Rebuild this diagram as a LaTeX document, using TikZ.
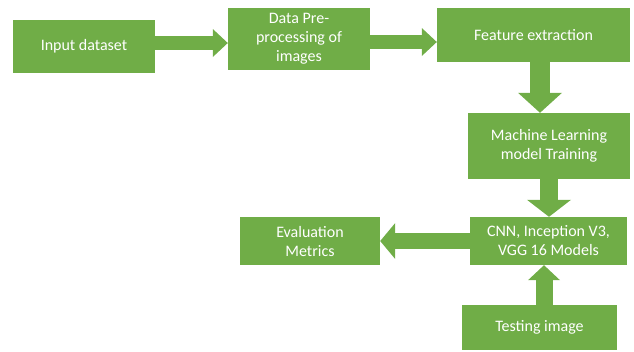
\documentclass[tikz,border=0pt]{standalone}
\usepackage{fontspec}
\setmainfont{Carlito}
\usepackage{xcolor}
\usepackage{tikz}
\usetikzlibrary{arrows.meta}

\definecolor{boxgreen}{RGB}{112,173,71}

\begin{document}
\begin{tikzpicture}[x=1pt, y=-1pt,
    box/.style={rectangle, fill=boxgreen, text=white, align=center, inner sep=0pt, font=\fontsize{16}{19}\selectfont},
    flow/.style n args={3}{draw=boxgreen, line width=#1, -{Triangle[length=#2, width=#3, line width=0pt]}}]

    \useasboundingbox (0,0) rectangle (634,351);

    \node[box, minimum width=142pt, minimum height=53pt] (IN) at (84,46.5) {Input dataset};
    \node[box, minimum width=142pt, minimum height=62pt] (PRE) at (299,39) {Data Pre-\\processing of\\images};
    \node[box, minimum width=193pt, minimum height=54pt] (FEAT) at (533.5,35) {Feature extraction};

    \node[box, minimum width=162pt, minimum height=66pt] (TRAIN) at (549,146) {Machine Learning\\model Training};
    \node[box, minimum width=157pt, minimum height=48pt] (MOD) at (548.5,241) {CNN, Inception V3,\\VGG 16 Models};
    \node[box, minimum width=140pt, minimum height=48pt] (EVAL) at (310,241) {Evaluation\\Metrics};
    \node[box, minimum width=155pt, minimum height=45pt] (TEST) at (539.5,327.5) {Testing image};

    \draw[flow={14pt}{15pt}{28pt}] ([yshift=3.5pt]IN.east) -- ([yshift=3.5pt]IN.east -| PRE.west);
    \draw[flow={14pt}{15pt}{28pt}] ([yshift=-3pt]PRE.east) -- ([yshift=-3pt]PRE.east -| FEAT.west);
    \draw[flow={20pt}{20pt}{44pt}] ([xshift=6.5pt]FEAT.south) -- ([xshift=6.5pt]FEAT.south |- TRAIN.north);
    \draw[flow={18pt}{17pt}{44pt}] (TRAIN.south) -- (TRAIN.south |- MOD.north);
    \draw[flow={16pt}{15pt}{36pt}] (MOD.west) -- (EVAL.east);
    \draw[flow={17pt}{15pt}{32pt}] ([xshift=4.5pt]TEST.north) -- ([xshift=4.5pt]TEST.north |- MOD.south);
\end{tikzpicture}
\end{document}
